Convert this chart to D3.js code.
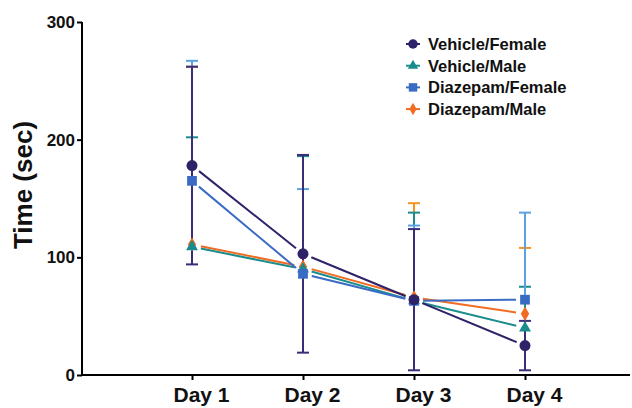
<!DOCTYPE html>
<html>
<head>
<meta charset="utf-8">
<script src="https://cdn.jsdelivr.net/npm/d3@7"></script>
<style>
  body { margin: 0; background: #fff; }
  svg { font-family: "Liberation Sans", Arial, sans-serif; font-weight: bold; }
</style>
</head>
<body>
<svg width="632" height="408"></svg>
<script>
// data
const days = ["Day 1", "Day 2", "Day 3", "Day 4"];
const seriesNames = ["Vehicle/Female", "Vehicle/Male", "Diazepam/Female", "Diazepam/Male"];

const vehicleFemale = [178, 103, 64, 25];
const vehicleFemaleErr = [84, 84, 60, 21];
const vehicleMale = [109, 90, 63, 40];
const vehicleMaleErr = [93, 96, 75, 35];
const diazepamFemale = [165, 86, 63, 64];
const diazepamFemaleErr = [102, 72, 64, 74];
const diazepamMale = [111, 92, 66, 52];
const diazepamMaleErr = [151, 95, 80, 56];

const yTicks = [0, 100, 200, 300];

var svg = d3.select("svg");

var x = d3.scalePoint().domain(days).range([192, 525]);
var y = d3.scaleLinear().domain([0, 300]).range([375, 22]);

// series, both-sided bars only for Vehicle/Female
var series = [
  { name: seriesNames[3], vals: diazepamMale, err: diazepamMaleErr, both: false,
    color: "#f26b22", barColor: "#f7931e", shape: d3.symbolDiamond, size: 60 },
  { name: seriesNames[1], vals: vehicleMale, err: vehicleMaleErr, both: false,
    color: "#1b8c8c", barColor: "#1b8c8c", shape: d3.symbolTriangle, size: 62 },
  { name: seriesNames[2], vals: diazepamFemale, err: diazepamFemaleErr, both: false,
    color: "#3a6bc4", barColor: "#5ba2e0", shape: d3.symbolSquare, size: 95 },
  { name: seriesNames[0], vals: vehicleFemale, err: vehicleFemaleErr, both: true,
    color: "#2f2268", barColor: "#3a2d78", shape: d3.symbolCircle, size: 95 }
];

// axes
var yAxis = d3.axisLeft(y).tickValues(yTicks).tickSize(5).tickSizeOuter(0);
var gy = svg.append("g").attr("transform", "translate(82,0)").call(yAxis);
gy.select(".domain").attr("stroke-width", 2).attr("d", "M0," + (y(0) + 1) + "V" + y(300));
gy.selectAll(".tick line").attr("stroke-width", 2);
gy.selectAll(".tick text").attr("font-size", 17).attr("font-weight", "bold")
  .attr("font-family", "Liberation Sans, Arial, sans-serif").attr("fill", "#111").attr("x", -7);

var xAxis = d3.axisBottom(x).tickSize(5).tickSizeOuter(0);
var gx = svg.append("g").attr("transform", "translate(0,375)").call(xAxis);
gx.select(".domain").attr("stroke-width", 2).attr("d", "M81,0H630");
gx.selectAll(".tick line").attr("stroke-width", 2);
gx.selectAll(".tick text").attr("font-size", 21).attr("font-weight", "bold")
  .attr("font-family", "Liberation Sans, Arial, sans-serif").attr("fill", "#111")
  .attr("dx", 9).attr("y", 12);

svg.append("text")
  .attr("transform", "translate(32,185) rotate(-90)")
  .attr("text-anchor", "middle")
  .attr("font-size", 26)
  .attr("fill", "#111")
  .text("Time (sec)");

// connecting lines, with a small gap at each marker
var gap = 9;
var lineG = svg.append("g");
series.forEach(function (s) {
  for (var i = 0; i < days.length - 1; i++) {
    var x1 = x(days[i]), y1 = y(s.vals[i]);
    var x2 = x(days[i + 1]), y2 = y(s.vals[i + 1]);
    var len = Math.hypot(x2 - x1, y2 - y1);
    var ux = (x2 - x1) / len, uy = (y2 - y1) / len;
    lineG.append("line")
      .attr("x1", x1 + ux * gap).attr("y1", y1 + uy * gap)
      .attr("x2", x2 - ux * gap).attr("y2", y2 - uy * gap)
      .attr("stroke", s.color).attr("stroke-width", 2);
  }
});

// error bars
var capW = 6;
series.forEach(function (s) {
  var g = svg.append("g");
  s.vals.forEach(function (v, i) {
    var cx = x(days[i]);
    var top = y(v + s.err[i]);
    var bottom = s.both ? y(v - s.err[i]) : y(v);
    g.append("line").attr("x1", cx).attr("x2", cx).attr("y1", top).attr("y2", bottom)
      .attr("stroke", s.barColor).attr("stroke-width", 2);
    g.append("line").attr("x1", cx - capW).attr("x2", cx + capW).attr("y1", top).attr("y2", top)
      .attr("stroke", s.barColor).attr("stroke-width", 2);
    if (s.both) {
      g.append("line").attr("x1", cx - capW).attr("x2", cx + capW).attr("y1", bottom).attr("y2", bottom)
        .attr("stroke", s.barColor).attr("stroke-width", 2);
    }
  });
});

// markers
series.forEach(function (s) {
  svg.append("g").selectAll("path")
    .data(s.vals)
    .enter().append("path")
    .attr("d", d3.symbol().type(s.shape).size(s.size))
    .attr("transform", function (d, i) { return "translate(" + x(days[i]) + "," + y(d) + ")"; })
    .attr("fill", s.color);
});

// legend
var legendOrder = [series[3], series[1], series[2], series[0]];
var legend = svg.append("g").attr("transform", "translate(413,44)");
legendOrder.forEach(function (s, i) {
  var row = legend.append("g").attr("transform", "translate(0," + (i * 21.7) + ")");
  row.append("line").attr("x1", -7).attr("x2", 7).attr("stroke", s.color).attr("stroke-width", 2);
  row.append("path").attr("d", d3.symbol().type(s.shape).size(s.size * 0.75)).attr("fill", s.color);
  row.append("text").attr("x", 15).attr("y", 6).attr("font-size", 16.5).attr("fill", "#111").text(s.name);
});
</script>
</body>
</html>
